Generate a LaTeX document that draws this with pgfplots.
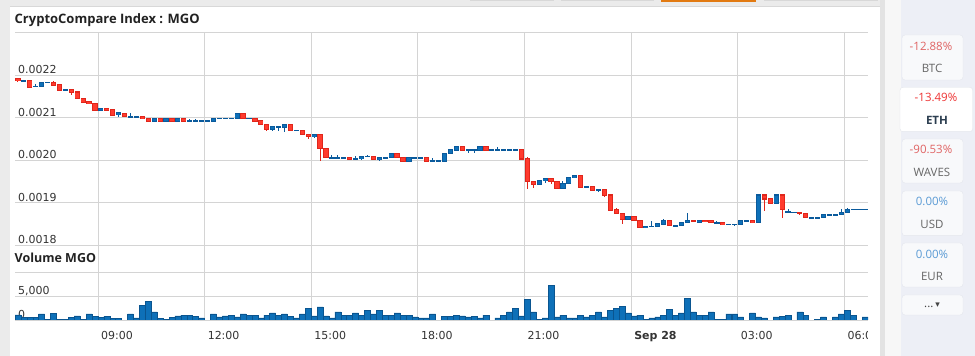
\documentclass[border=0pt]{standalone}
\usepackage{pgfplots}
\pgfplotsset{compat=1.18}
\usepackage{pgfplotstable}
\usepackage{fontspec}
\setmainfont{Open Sans}
\newfontfamily\dejavu{DejaVu Sans}
\definecolor{upfill}{HTML}{0E70B8}
\definecolor{upline}{HTML}{0A5A9C}
\definecolor{dnfill}{HTML}{FF3B2E}
\definecolor{dnline}{HTML}{E0261B}
\definecolor{gridc}{HTML}{D4D4D4}
\definecolor{bgc}{HTML}{EBEBEB}
\definecolor{sidec}{HTML}{EDEFF6}
\definecolor{boxc}{HTML}{F8F9FB}
\definecolor{boxline}{HTML}{E4E6EC}
\definecolor{tickc}{HTML}{333333}
\definecolor{volfill}{HTML}{0E70B8}
\definecolor{volline}{HTML}{0A5590}
\definecolor{stripa}{HTML}{E3E3E3}
\definecolor{stripb}{HTML}{F7F7F7}
\definecolor{titlec}{HTML}{222222}
\definecolor{redtxt}{HTML}{E06363}
\definecolor{redsel}{HTML}{EE3333}
\definecolor{graytxt}{HTML}{666666}
\definecolor{ethtxt}{HTML}{2C3E50}
\definecolor{bluetxt}{HTML}{5B9BD5}
\definecolor{darktxt}{HTML}{444444}
\definecolor{tabline}{HTML}{D8D8D8}
\definecolor{taborange}{HTML}{E27A12}

\pgfplotstableread{
i o h l c
1 0.002187 0.002187 0.002187 0.002187
3 0.002173 0.002180 0.002173 0.002174
4 0.002174 0.002183 0.002173 0.002183
5 0.002183 0.002183 0.002183 0.002183
8 0.002165 0.002165 0.002165 0.002165
14 0.002118 0.002122 0.002118 0.002121
17 0.002107 0.002111 0.002102 0.002111
19 0.002102 0.002110 0.002102 0.002102
20 0.002102 0.002102 0.002102 0.002102
23 0.002092 0.002098 0.002092 0.002098
25 0.002090 0.002098 0.002090 0.002098
27 0.002090 0.002098 0.002090 0.002098
29 0.002092 0.002097 0.002092 0.002092
30 0.002092 0.002097 0.002092 0.002092
31 0.002092 0.002092 0.002092 0.002092
32 0.002092 0.002092 0.002092 0.002092
33 0.002091 0.002098 0.002090 0.002098
34 0.002098 0.002098 0.002098 0.002098
35 0.002098 0.002098 0.002098 0.002098
36 0.002098 0.002098 0.002098 0.002098
37 0.002098 0.002110 0.002098 0.002110
39 0.002098 0.002098 0.002098 0.002098
43 0.002072 0.002078 0.002068 0.002078
44 0.002078 0.002078 0.002068 0.002078
45 0.002076 0.002083 0.002067 0.002083
47 0.002070 0.002070 0.002070 0.002070
50 0.002055 0.002061 0.002052 0.002060
53 0.002006 0.002013 0.002006 0.002006
54 0.002006 0.002012 0.002006 0.002006
55 0.002006 0.002006 0.002006 0.002006
57 0.002003 0.002010 0.002003 0.002003
58 0.002003 0.002009 0.002000 0.002009
59 0.002009 0.002011 0.002009 0.002009
61 0.002001 0.002006 0.001999 0.002006
62 0.002006 0.002006 0.002006 0.002006
63 0.002006 0.002016 0.002006 0.002016
66 0.001996 0.002006 0.001996 0.002006
67 0.002006 0.002006 0.002006 0.002006
68 0.002006 0.002006 0.002006 0.002006
70 0.001998 0.002005 0.001998 0.001998
71 0.001998 0.001998 0.001998 0.001998
72 0.001998 0.002016 0.001998 0.002016
73 0.002016 0.002024 0.002016 0.002024
74 0.002024 0.002031 0.002024 0.002031
76 0.002024 0.002024 0.002018 0.002024
77 0.002024 0.002024 0.002018 0.002024
78 0.002024 0.002031 0.002024 0.002031
80 0.002024 0.002024 0.002024 0.002024
81 0.002024 0.002031 0.002024 0.002024
82 0.002024 0.002024 0.002024 0.002024
83 0.002024 0.002024 0.002024 0.002024
84 0.002024 0.002024 0.002024 0.002024
88 0.001943 0.001952 0.001943 0.001952
89 0.001952 0.001956 0.001947 0.001956
92 0.001933 0.001952 0.001933 0.001945
93 0.001945 0.001960 0.001945 0.001960
94 0.001960 0.001963 0.001960 0.001963
96 0.001937 0.001939 0.001936 0.001939
98 0.001930 0.001930 0.001926 0.001930
103 0.001861 0.001868 0.001861 0.001868
106 0.001842 0.001845 0.001842 0.001845
107 0.001845 0.001856 0.001845 0.001845
108 0.001844 0.001850 0.001844 0.001850
109 0.001850 0.001862 0.001848 0.001857
111 0.001846 0.001846 0.001843 0.001846
112 0.001846 0.001853 0.001846 0.001853
113 0.001853 0.001875 0.001853 0.001859
115 0.001853 0.001859 0.001853 0.001859
118 0.001853 0.001857 0.001853 0.001853
120 0.001849 0.001849 0.001849 0.001849
121 0.001849 0.001849 0.001845 0.001849
122 0.001849 0.001858 0.001849 0.001858
123 0.001858 0.001858 0.001858 0.001858
125 0.001853 0.001918 0.001853 0.001918
128 0.001898 0.001918 0.001898 0.001918
130 0.001879 0.001885 0.001879 0.001879
131 0.001878 0.001878 0.001878 0.001878
134 0.001865 0.001865 0.001865 0.001865
135 0.001865 0.001865 0.001865 0.001865
136 0.001865 0.001872 0.001865 0.001872
137 0.001872 0.001872 0.001872 0.001872
138 0.001872 0.001872 0.001872 0.001872
139 0.001872 0.001885 0.001872 0.001878
140 0.001878 0.001888 0.001878 0.001885
141 0.001885 0.001885 0.001885 0.001885
142 0.001885 0.001885 0.001885 0.001885
143 0.001885 0.001885 0.001885 0.001885
}\upcandles

\pgfplotstableread{
i o h l c
0 0.002192 0.002193 0.002184 0.002187
2 0.002187 0.002187 0.002172 0.002172
6 0.002183 0.002185 0.002176 0.002176
7 0.002177 0.002177 0.002165 0.002165
9 0.002165 0.002165 0.002153 0.002160
10 0.002160 0.002160 0.002145 0.002145
11 0.002145 0.002145 0.002136 0.002136
12 0.002137 0.002137 0.002132 0.002133
13 0.002133 0.002133 0.002118 0.002118
15 0.002121 0.002122 0.002116 0.002118
16 0.002119 0.002119 0.002106 0.002106
18 0.002110 0.002110 0.002102 0.002102
21 0.002102 0.002102 0.002098 0.002098
22 0.002098 0.002098 0.002092 0.002092
24 0.002098 0.002098 0.002090 0.002090
26 0.002098 0.002098 0.002090 0.002090
28 0.002098 0.002098 0.002090 0.002090
38 0.002110 0.002110 0.002098 0.002098
40 0.002098 0.002098 0.002092 0.002092
41 0.002092 0.002092 0.002084 0.002084
42 0.002084 0.002084 0.002069 0.002072
46 0.002083 0.002083 0.002070 0.002070
48 0.002070 0.002070 0.002061 0.002061
49 0.002061 0.002061 0.002049 0.002055
51 0.002061 0.002061 0.001998 0.002028
52 0.002028 0.002028 0.002006 0.002006
56 0.002006 0.002006 0.002000 0.002003
60 0.002009 0.002009 0.002001 0.002001
64 0.002016 0.002016 0.002006 0.002006
65 0.002006 0.002006 0.001996 0.001996
69 0.002006 0.002006 0.001998 0.001998
75 0.002031 0.002031 0.002024 0.002024
79 0.002031 0.002031 0.002024 0.002024
85 0.002024 0.002024 0.002003 0.002003
86 0.002003 0.002007 0.001932 0.001949
87 0.001949 0.001949 0.001934 0.001943
90 0.001956 0.001957 0.001945 0.001949
91 0.001949 0.001949 0.001933 0.001933
95 0.001963 0.001963 0.001937 0.001937
97 0.001939 0.001939 0.001930 0.001930
99 0.001930 0.001930 0.001914 0.001918
100 0.001918 0.001918 0.001883 0.001883
101 0.001883 0.001888 0.001875 0.001875
102 0.001875 0.001875 0.001849 0.001861
104 0.001868 0.001868 0.001857 0.001859
105 0.001859 0.001859 0.001842 0.001842
110 0.001857 0.001858 0.001846 0.001846
114 0.001859 0.001859 0.001856 0.001857
116 0.001859 0.001859 0.001855 0.001856
117 0.001859 0.001859 0.001853 0.001853
119 0.001853 0.001853 0.001849 0.001849
124 0.001858 0.001858 0.001853 0.001853
126 0.001918 0.001918 0.001880 0.001909
127 0.001909 0.001909 0.001898 0.001898
129 0.001918 0.001918 0.001863 0.001885
132 0.001878 0.001878 0.001872 0.001876
133 0.001875 0.001875 0.001865 0.001865
}\downcandles

\pgfplotstableread{
i v
0 1070
1 570
2 570
3 570
4 1290
5 140
6 1430
7 140
8 140
9 570
10 860
11 140
12 1290
13 790
14 500
15 790
16 290
17 360
19 1290
20 430
21 3000
22 3860
23 1710
24 360
25 140
26 570
27 860
28 1000
29 1000
30 790
31 430
33 1290
34 640
35 860
36 1000
37 640
38 1290
39 1000
40 1000
41 430
42 1000
43 1500
44 1000
45 1290
46 710
47 430
48 1290
49 2360
50 860
51 2710
52 860
53 430
54 1710
55 1000
56 1000
57 1500
58 1000
59 1930
60 1290
61 1930
62 1000
63 1000
64 1500
65 1000
66 1000
67 640
68 430
69 430
70 1290
72 790
73 790
74 1000
75 860
76 640
77 790
78 430
79 1000
81 430
82 1000
83 1710
84 2360
85 860
86 4290
87 1710
88 140
89 430
90 7290
91 640
92 1000
93 430
94 430
95 1000
96 640
97 1000
98 1710
99 640
100 1930
101 2360
102 2790
103 1500
104 860
105 1000
106 140
107 430
108 640
109 1000
110 2140
111 1000
112 1500
113 4430
114 1710
115 1000
116 1000
117 1710
118 140
119 140
120 1290
121 1290
122 640
124 1500
125 640
126 430
128 640
129 790
130 1000
132 1710
133 1000
135 70
136 640
138 640
139 1290
140 1930
141 1000
143 640
}\volume

\pgfplotsset{
  cstick/.style 2 args={draw=none, mark=none, no markers, forget plot,
    error bars/y dir=both, error bars/y explicit, error bars/error mark=none,
    error bars/error bar style={line width=#1, draw=#2, solid}},
}

\begin{document}
\begin{tikzpicture}[x=1pt,y=1pt]
\useasboundingbox (0,0) rectangle (975,356);
% page background
\fill[bgc] (0,0) rectangle (975,356);
\fill[white] (10,0) rectangle (880,349.3);
\draw[tabline, line width=0.8pt] (10,349.3) -- (880,349.3);
\fill[tabline] (470,355) rectangle (554,356);
\fill[tabline] (561,355) rectangle (654,356);
\fill[taborange] (661,354.3) rectangle (756,356);
\fill[tabline] (764,355) rectangle (878,356);
\fill[stripa] (880,0) rectangle (885,356);
\fill[stripb] (885,0) rectangle (900.5,356);
\fill[sidec] (900.5,0) rectangle (975,356);

% vertical grid spanning both panels
\begin{axis}[at={(15pt,36pt)}, anchor=south west, scale only axis,
  width=853pt, height=287.5pt,
  xmin=6.6667, xmax=30.6667, ymin=0, ymax=1,
  xtick={9,12,15,18,21,24,27,30}, xticklabels=\empty, ytick=\empty,
  xmajorgrids, grid style={gridc, line width=0.8pt},
  axis line style={draw=none}, major tick length=0pt]
\end{axis}

% price panel
\begin{axis}[at={(15pt,110.7pt)}, anchor=south west, scale only axis,
  width=853pt, height=212.8pt,
  xmin=6.6667, xmax=30.6667, ymin=0.0018, ymax=0.0023,
  xtick=\empty,
  ytick={0.0018,0.0019,0.0020,0.0021,0.0022,0.0023},
  yticklabels={0.0018,0.0019,0.0020,0.0021,0.0022,{}},
  scaled y ticks=false,
  ymajorgrids, grid style={gridc, line width=0.8pt},
  axis line style={draw=none}, major tick length=0pt,
  yticklabel style={anchor=base west, xshift=3pt, yshift=1.5pt, inner sep=0pt,
    font=\dejavu\fontsize{11}{13}\selectfont, text=tickc}]
% wicks
\addplot[cstick={1pt}{upline}]
  table[x expr={6.75+\thisrow{i}/6}, y expr={(\thisrow{h}+\thisrow{l})/2},
        y error expr={(\thisrow{h}-\thisrow{l})/2}] {\upcandles};
\addplot[cstick={1pt}{dnline}]
  table[x expr={6.75+\thisrow{i}/6}, y expr={(\thisrow{h}+\thisrow{l})/2},
        y error expr={(\thisrow{h}-\thisrow{l})/2}] {\downcandles};
% bodies: outline
\addplot[cstick={5.2pt}{upline}]
  table[x expr={6.75+\thisrow{i}/6}, y expr={(\thisrow{o}+\thisrow{c})/2},
        y error expr={abs(\thisrow{o}-\thisrow{c})/2+0.0000014}] {\upcandles};
\addplot[cstick={5.2pt}{dnline}]
  table[x expr={6.75+\thisrow{i}/6}, y expr={(\thisrow{o}+\thisrow{c})/2},
        y error expr={abs(\thisrow{o}-\thisrow{c})/2+0.0000014}] {\downcandles};
% bodies: fill
\addplot[cstick={3.4pt}{upfill}]
  table[x expr={6.75+\thisrow{i}/6}, y expr={(\thisrow{o}+\thisrow{c})/2},
        y error expr={max(abs(\thisrow{o}-\thisrow{c})/2-0.0000010,0)}] {\upcandles};
\addplot[cstick={3.4pt}{dnfill}]
  table[x expr={6.75+\thisrow{i}/6}, y expr={(\thisrow{o}+\thisrow{c})/2},
        y error expr={max(abs(\thisrow{o}-\thisrow{c})/2-0.0000010,0)}] {\downcandles};
\end{axis}

% volume panel
\begin{axis}[at={(15pt,36pt)}, anchor=south west, scale only axis,
  width=853pt, height=48pt,
  xmin=6.6667, xmax=30.6667, ymin=0, ymax=10000,
  xtick={9,12,15,18,21,24,27,30},
  xticklabels={09:00,12:00,15:00,18:00,21:00,\textbf{Sep 28},03:00,06:00},
  ytick={0,5000,10000}, yticklabels={0,{5,000},{}},
  scaled y ticks=false,
  ymajorgrids, grid style={gridc, line width=0.8pt},
  axis line style={draw=none}, major tick length=0pt,
  yticklabel style={anchor=base west, xshift=3pt, yshift=1.5pt, inner sep=0pt,
    font=\dejavu\fontsize{11}{13}\selectfont, text=tickc},
  xticklabel style={anchor=base west, xshift=3pt, yshift=-19.3pt, inner sep=0pt,
    font=\dejavu\fontsize{11}{13}\selectfont, text=tickc}]
\addplot[ybar, bar shift=0pt, bar width=0.1667, fill=volfill, draw=volline, line width=0.5pt]
  table[x expr={6.75+\thisrow{i}/6}, y=v] {\volume};
\end{axis}
% the chart area ends at 868: the last time label is cut there
\fill[white] (868.3,5) rectangle (879.5,30);

% titles
\node[anchor=base west, inner sep=0pt, font=\fontsize{13}{15}\selectfont\bfseries, text=titlec]
  at (14.5,332) {CryptoCompare Index : MGO};
\node[anchor=base west, inner sep=0pt, font=\fontsize{12.5}{15}\selectfont\bfseries, text=titlec]
  at (14.5,93.3) {Volume MGO};

% sidebar
\begin{scope}[font=\fontsize{11.5}{14}\selectfont]
\filldraw[fill=boxc, draw=boxline, rounded corners=3pt] (902,276) rectangle (963,321);
\filldraw[fill=white, draw=boxline, rounded corners=3pt] (900,224.3) rectangle (972.7,268.7);
\filldraw[fill=boxc, draw=boxline, rounded corners=3pt] (902,173) rectangle (963,217);
\filldraw[fill=boxc, draw=boxline, rounded corners=3pt] (902,120.3) rectangle (963,165);
\filldraw[fill=boxc, draw=boxline, rounded corners=3pt] (902,69) rectangle (963,113);
\filldraw[fill=boxc, draw=boxline, rounded corners=3pt] (902,41) rectangle (963,61);
\node[text=redtxt] at (931,310) {-12.88\%};
\node[text=graytxt] at (932,287.5) {BTC};
\node[text=redsel] at (936,258.3) {-13.49\%};
\node[text=ethtxt, font=\fontsize{11.5}{14}\selectfont\bfseries] at (937,236) {ETH};
\node[text=redtxt] at (931,206.7) {-90.53\%};
\node[text=graytxt] at (932,183.7) {WAVES};
\node[text=bluetxt] at (932,154.3) {0.00\%};
\node[text=graytxt] at (932,132) {USD};
\node[text=bluetxt] at (932,102) {0.00\%};
\node[text=graytxt] at (932,80) {EUR};
\node[text=darktxt] at (932,51) {...\,{\dejavu\fontsize{9}{10}\selectfont ▾}};
\end{scope}
\end{tikzpicture}
\end{document}
